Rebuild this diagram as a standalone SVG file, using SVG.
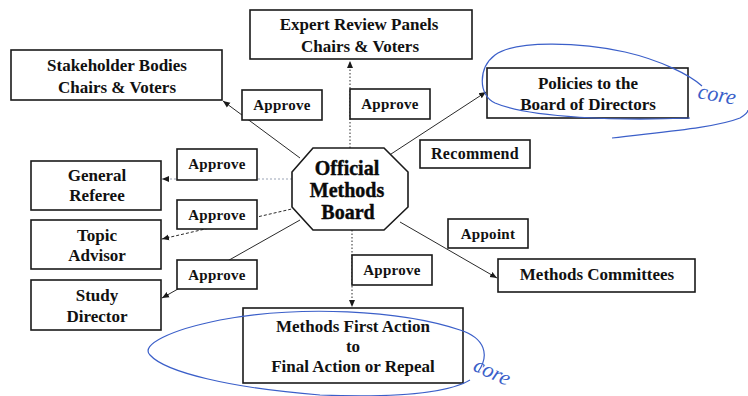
<svg xmlns="http://www.w3.org/2000/svg" width="748" height="396" viewBox="0 0 748 396" font-family="Liberation Serif, serif">
<style>
.box{fill:#fff;stroke:#1a1a1a;stroke-width:1.6}
.lbl{fill:#fff;stroke:#1a1a1a;stroke-width:1.6}
.t{font-family:'Liberation Serif',serif;font-weight:bold;font-size:17px;fill:#111;text-anchor:middle}
.lt{font-family:'Liberation Serif',serif;font-weight:bold;font-size:15px;fill:#111;text-anchor:middle;letter-spacing:0.3px}
.ob{font-family:'Liberation Serif',serif;font-weight:bold;font-size:20px;fill:#0a0a0a;text-anchor:middle;stroke:#0a0a0a;stroke-width:0.4}
.ln{fill:none;stroke:#2a2a2a;stroke-width:1}
.dot{stroke-dasharray:1.5 2}
.dash{stroke-dasharray:3 2}
.light{stroke:#9aa3b5;stroke-dasharray:2 2}
.ink{fill:none;stroke:#3b5fc9;stroke-width:1.2}
.hand{font-family:'Liberation Serif',serif;font-style:italic;font-size:22px;fill:#3b5fc9}
</style>
<defs>
<marker id="ah" markerWidth="8" markerHeight="8" refX="7" refY="4" orient="auto" markerUnits="userSpaceOnUse">
<path d="M0,1 L7,4 L0,7 Z" fill="#1a1a1a"/>
</marker>
</defs>
<rect width="748" height="396" fill="#fff"/>

<g id="connectors">
<line class="ln" x1="300" y1="158" x2="223" y2="101" marker-end="url(#ah)"/>
<line class="ln dot" x1="350" y1="148" x2="350" y2="61" marker-end="url(#ah)"/>
<line class="ln" x1="388" y1="156" x2="486" y2="92" marker-end="url(#ah)"/>
<line class="ln light" x1="292" y1="179" x2="162" y2="179" marker-end="url(#ah)"/>
<line class="ln dash" x1="296" y1="208" x2="162" y2="239" marker-end="url(#ah)"/>
<line class="ln" x1="300" y1="220" x2="162" y2="298" marker-end="url(#ah)"/>
<line class="ln" x1="400" y1="222" x2="497" y2="278" marker-end="url(#ah)"/>
<line class="ln dot" x1="352" y1="230" x2="352" y2="307" marker-end="url(#ah)"/>
</g>

<g id="expert-review">
<rect class="box" x="250" y="10" width="222" height="49"/>
<text class="t" x="359" y="30">Expert Review Panels</text>
<text class="t" x="360" y="52">Chairs &amp; Voters</text>
</g>

<g id="stakeholder">
<rect class="box" x="11" y="50" width="211" height="50"/>
<text class="t" x="117" y="71">Stakeholder Bodies</text>
<text class="t" x="117" y="93">Chairs &amp; Voters</text>
</g>

<g id="policies">
<rect class="box" x="487" y="68" width="201" height="50"/>
<text class="t" x="588" y="89">Policies to the</text>
<text class="t" x="588" y="110">Board of Directors</text>
</g>

<g id="general-referee">
<rect class="box" x="31" y="161" width="130" height="49"/>
<text class="t" x="97" y="181">General</text>
<text class="t" x="97" y="201">Referee</text>
</g>

<g id="topic-advisor">
<rect class="box" x="31" y="220" width="130" height="49"/>
<text class="t" x="97" y="241">Topic</text>
<text class="t" x="97" y="261">Advisor</text>
</g>

<g id="study-director">
<rect class="box" x="31" y="280" width="130" height="50"/>
<text class="t" x="97" y="301">Study</text>
<text class="t" x="97" y="322">Director</text>
</g>

<g id="methods-committees">
<rect class="box" x="498" y="259" width="197" height="33"/>
<text class="t" x="597" y="280">Methods Committees</text>
</g>

<g id="methods-first-action">
<rect class="box" x="243" y="308" width="220" height="75"/>
<text class="t" x="353" y="332">Methods First Action</text>
<text class="t" x="353" y="352">to</text>
<text class="t" x="353" y="372">Final Action or Repeal</text>
</g>

<g id="official-methods-board">
<polygon class="box" points="313,148 384,148 408,172 408,207 384,230 313,230 292,207 292,172"/>
<text class="ob" x="347" y="175">Official</text>
<text class="ob" x="347" y="197">Methods</text>
<text class="ob" x="348" y="219">Board</text>
</g>

<g id="labels">
<rect class="lbl" x="242" y="90" width="80" height="30"/>
<text class="lt" x="282" y="110">Approve</text>
<rect class="lbl" x="350" y="89" width="80" height="30"/>
<text class="lt" x="390" y="109">Approve</text>
<rect class="lbl" x="420" y="140" width="110" height="28"/>
<text class="lt" x="475" y="159" style="font-size:16px">Recommend</text>
<rect class="lbl" x="177" y="149" width="80" height="31"/>
<text class="lt" x="217" y="169">Approve</text>
<rect class="lbl" x="177" y="200" width="80" height="29"/>
<text class="lt" x="217" y="220">Approve</text>
<rect class="lbl" x="177" y="260" width="80" height="29"/>
<text class="lt" x="217" y="280">Approve</text>
<rect class="lbl" x="448" y="219" width="80" height="29"/>
<text class="lt" x="488" y="239">Appoint</text>
<rect class="lbl" x="352" y="255" width="80" height="30"/>
<text class="lt" x="392" y="275">Approve</text>
</g>

<g id="annotations">
<path class="ink" d="M690,118 C620,121 530,118 495,103 C478,95 478,68 495,55 C515,40 580,42 625,52 C660,60 690,75 702,86"/>
<path class="ink" d="M612,138 C660,132 715,128 740,118 C745,115 748,112 748,110"/>
<text class="hand" x="697" y="98" transform="rotate(10 697 98)">core</text>
<path class="ink" d="M478,372 C490,355 485,338 460,330 C400,310 300,305 220,320 C170,330 140,345 150,355 C165,372 230,388 320,395 C400,398 450,392 470,380"/>
<text class="hand" x="472" y="370" transform="rotate(25 472 370)">core</text>
</g>
</svg>
